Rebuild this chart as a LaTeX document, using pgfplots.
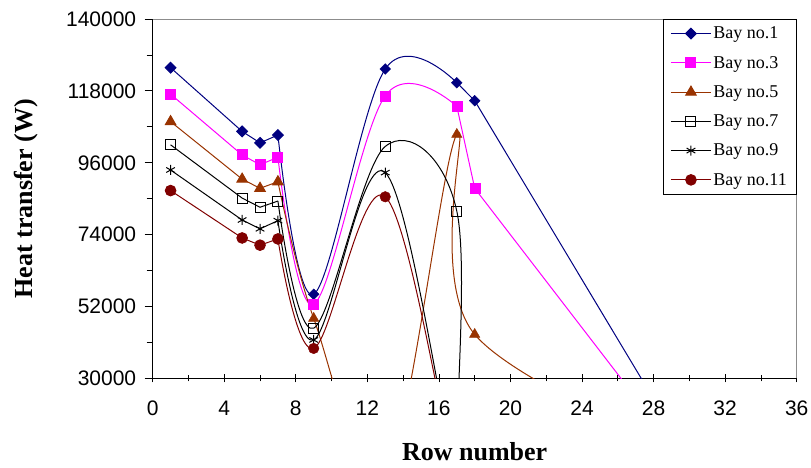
\documentclass[border=0pt]{standalone}
\usepackage{pgfplots}
\pgfplotsset{compat=1.18}
\usepackage{fontspec}
\setmainfont{Liberation Serif}
\newfontfamily\arialfont{Liberation Sans}
\definecolor{bnavy}{RGB}{0,0,128}
\definecolor{bmag}{RGB}{255,0,255}
\definecolor{bbrown}{RGB}{153,51,0}
\definecolor{bdred}{RGB}{128,0,0}
\begin{document}
\begin{tikzpicture}
\path[use as bounding box] (-152.7pt,-89.5pt) rectangle (658.3pt,378.5pt);
\begin{axis}[
  at={(0pt,0pt)}, anchor=south west,
  scale only axis, width=644pt, height=359.5pt,
  xmin=0, xmax=36, ymin=30000, ymax=140000,
  axis lines*=left,
  xtick={0,4,...,36}, ytick={30000,52000,...,140000},
  minor x tick num=1, minor y tick num=1,
  xtick align=center, ytick align=outside,
  major tick length=8pt, minor tick length=6pt,
  tick style={black, line width=0.8pt},
  axis line style={black, line width=0.8pt},
  scaled y ticks=false,
  /pgf/number format/fixed,
  /pgf/number format/precision=0,
  /pgf/number format/assume math mode=true,
  /pgf/number format/1000 sep={},
  tick label style={font=\arialfont\fontsize{21}{25}\selectfont},
  xticklabel style={yshift=-15pt},
  yticklabel style={xshift=-5pt},
  xlabel={Row number}, ylabel={Heat transfer (W)},
  label style={font=\bfseries\fontsize{26}{30}\selectfont},
  xlabel style={at={([yshift=-82.5pt]axis description cs:0.5,0)}, anchor=base},
  ylabel style={at={([xshift=-126.4pt]axis description cs:0,0.5)}, anchor=center},
  legend style={at={(1,1)}, anchor=north east, draw=black, line width=0.8pt, fill=white,
    font=\fontsize{18}{21}\selectfont, inner xsep=7.5pt, inner ysep=5.5pt, row sep=11.9pt,
    nodes={inner sep=2pt}},
  legend cell align=left,
  legend image code/.code={\draw[mark repeat=2, mark phase=2, #1] plot coordinates {(0pt,0pt)(20pt,0pt)(40pt,0pt)};},
  after end axis/.code={\draw[black!45, line width=0.8pt] (rel axis cs:0,1) -- (rel axis cs:1,1) -- (rel axis cs:1,0);},
]
% ---------------- Bay no.1
\addplot[bnavy, line width=1pt, mark=square*, mark size=3.8pt, mark options={rotate=45, fill=bnavy}]
  coordinates {(1,125100)(5,105600)(6,102100)(7,104500)};
\addlegendentry{Bay no.1}
\addplot[bnavy, line width=1pt, smooth, tension=0.6, forget plot]
  coordinates {(7,104500)(9,55760)(13,124700)(17,120500)};
\addplot[bnavy, line width=1pt, sharp plot, forget plot]
  coordinates {(17,120500)(18,115000)(30.6,0)};
\addplot[bnavy, only marks, mark=square*, mark size=3.8pt, mark options={rotate=45, fill=bnavy}, forget plot]
  coordinates {(9,55760)(13,124700)(17,120500)(18,115000)};
% ---------------- Bay no.3
\addplot[bmag, line width=1pt, mark=square*, mark size=5pt, mark options={fill=bmag}]
  coordinates {(1,117000)(5,98400)(6,95400)(7,97700)};
\addlegendentry{Bay no.3}
\addplot[bmag, line width=1pt, smooth, tension=0.6, forget plot]
  coordinates {(7,97700)(9,52700)(13,116500)(17,113300)};
\addplot[bmag, line width=1pt, sharp plot, forget plot]
  coordinates {(17,113300)(18,88200)(30.4,0)};
\addplot[bmag, only marks, mark=square*, mark size=5pt, mark options={fill=bmag}, forget plot]
  coordinates {(9,52700)(13,116500)(17,113300)(18,88200)};
% ---------------- Bay no.5
\addplot[bbrown, line width=1pt, mark=triangle*, mark size=6pt, mark options={fill=bbrown}]
  coordinates {(1,108600)(5,91000)(6,88200)(7,90200)};
\addlegendentry{Bay no.5}
\addplot[bbrown, line width=1pt, smooth, tension=0.6, forget plot]
  coordinates {(7,90200)(9,48400)(13,0)(17,104700)(18,43500)(33,0)};
\addplot[bbrown, only marks, mark=triangle*, mark size=6pt, mark options={fill=bbrown}, forget plot]
  coordinates {(9,48400)(17,104700)(18,43500)};
% ---------------- Bay no.7
\addplot[black, line width=1pt, mark=square, mark size=5pt, mark options={fill=white}]
  coordinates {(1,101500)(5,85200)(6,82400)(7,84300)};
\addlegendentry{Bay no.7}
\addplot[black, line width=1pt, smooth, tension=0.6, forget plot]
  coordinates {(7,84300)(9,45400)(13,101000)(17,81200)(17,0)(18,0)};
\addplot[black, line width=1pt, only marks, mark=square, mark size=5pt, mark options={fill=white}, forget plot]
  coordinates {(9,45400)(13,101000)(17,81200)};
% ---------------- Bay no.9
\addplot[black, line width=1pt, mark=asterisk, mark size=5pt]
  coordinates {(1,93800)(5,78500)(6,75800)(7,78300)};
\addlegendentry{Bay no.9}
\addplot[black, line width=1pt, smooth, tension=0.6, forget plot]
  coordinates {(7,78300)(9,41800)(13,93000)(17,0)(18,0)};
\addplot[black, line width=1pt, only marks, mark=asterisk, mark size=5pt, forget plot]
  coordinates {(9,41800)(13,93000)};
% ---------------- Bay no.11
\addplot[bdred, line width=1pt, mark=*, mark size=5.3pt, mark options={fill=bdred}]
  coordinates {(1,87500)(5,73000)(6,70800)(7,72700)};
\addlegendentry{Bay no.11}
\addplot[bdred, line width=1pt, smooth, tension=0.6, forget plot]
  coordinates {(7,72700)(9,39200)(13,85600)(17,0)(18,0)};
\addplot[bdred, only marks, mark=*, mark size=5.3pt, mark options={fill=bdred}, forget plot]
  coordinates {(9,39200)(13,85600)};
\end{axis}
\end{tikzpicture}
\end{document}
